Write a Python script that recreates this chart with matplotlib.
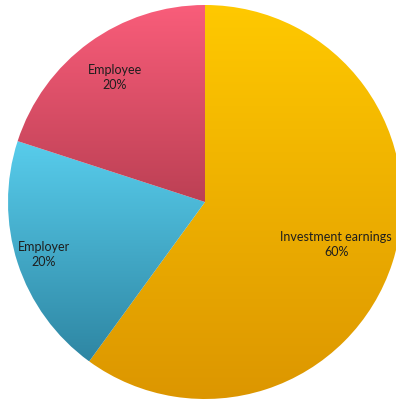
import numpy as np
import matplotlib
matplotlib.use("Agg")
import matplotlib.pyplot as plt
from matplotlib.colors import LinearSegmentedColormap

labels = ["Investment earnings", "Employer", "Employee"]
shares = [60, 20, 20]
top_colors = ["#ffc900", "#58cdec", "#f95d7a"]
bottom_colors = ["#dc9600", "#2e86a3", "#bc4054"]
label_radius = [0.70, 0.86, 0.78]

plt.rcParams['font.family'] = ['Lato', 'DejaVu Sans']

fig = plt.figure(figsize=(3.96, 4.03), dpi=100)
ax = fig.add_axes([0, 0, 1, 1])
r = 197

wedges, _ = ax.pie(shares, startangle=90, counterclock=False, radius=1,
                   wedgeprops=dict(linewidth=0))

for w, c0, c1, lab, val, lr in zip(wedges, top_colors, bottom_colors,
                                   labels, shares, label_radius):
    w.set_facecolor('none')
    verts = w.get_path().vertices
    ymin, ymax = verts[:, 1].min(), verts[:, 1].max()
    cmap = LinearSegmentedColormap.from_list('g', [c1, c0])
    grad = np.linspace(0, 1, 256).reshape(-1, 1)
    im = ax.imshow(grad, cmap=cmap, origin='lower', aspect='auto',
                   extent=[-1.05, 1.05, ymin, ymax], zorder=1)
    im.set_clip_path(w)
    mid = np.deg2rad((w.theta1 + w.theta2) / 2)
    ax.text(lr * np.cos(mid), lr * np.sin(mid), f"{lab}\n{val}%",
            ha='center', va='center', fontsize=9, color='#1e1e1e',
            linespacing=1.35, zorder=3)

ax.set_aspect('auto')
ax.axis('off')
ax.set_xlim(-205 / r, 191 / r)
ax.set_ylim(-201 / r, 202 / r)
fig.savefig("out.png", dpi=100)
